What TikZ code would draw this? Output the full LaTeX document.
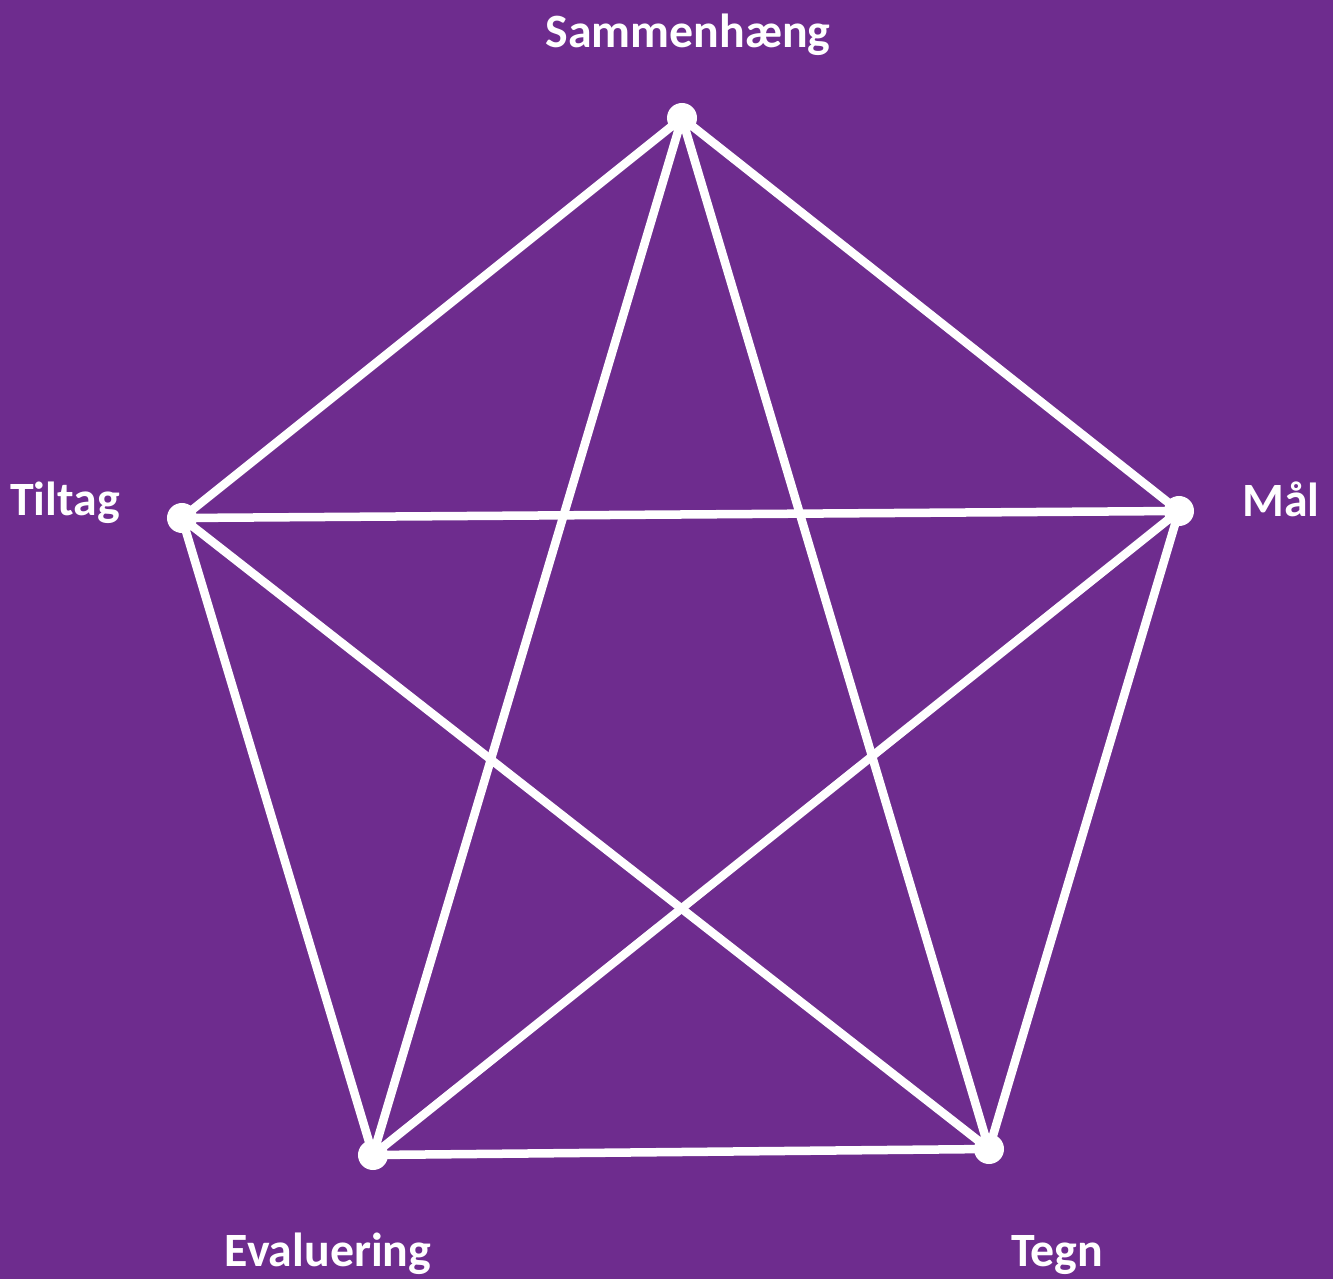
\documentclass[tikz,border=0pt]{standalone}
\usepackage{fontspec}
\setmainfont{Carlito}
\usepackage{xcolor}
\usepackage{tikz}
\usetikzlibrary{
  positioning,
  calc
}
\definecolor{bgpurple}{HTML}{6E2C8E}
\tikzset{
  dotnode/.style={
    circle, fill=white, draw=none, minimum size=0.3cm, inner sep=0pt
  },
  labeltext/.style={
    anchor=base, text=white, font=\fontsize{13.6}{15}\selectfont\bfseries,
    inner sep=0pt
  },
  edgeline/.style={
    draw=white, line width=0.085cm, line cap=round
  },
}

\begin{document}
\begin{tikzpicture}[x=0.01cm, y=-0.01cm]
  % background
  \fill[bgpurple] (0,0) rectangle (1333,1279);

  \node[dotnode] (sam) at (682,118)  {};
  \node[dotnode] (mal) at (1179,511) {};
  \node[dotnode] (til) at (182,518)  {};
  \node[dotnode] (eva) at (373,1155) {};
  \node[dotnode] (teg) at (989,1149) {};

  \node[labeltext] (samlab) at (688,48)   {Sammenhæng};
  \node[labeltext] (mallab) at (1281,516) {Mål};
  \node[labeltext] (tillab) at (65,515)   {Tiltag};
  \node[labeltext] (evalab) at (328,1266) {Evaluering};
  \node[labeltext] (teglab) at (1057,1266) {Tegn};

  % outer pentagon
  \draw[edgeline] (sam.center) -- (mal.center);
  \draw[edgeline] (mal.center) -- (teg.center);
  \draw[edgeline] (teg.center) -- (eva.center);
  \draw[edgeline] (eva.center) -- (til.center);
  \draw[edgeline] (til.center) -- (sam.center);
  % inner star
  \draw[edgeline] (sam.center) -- (eva.center);
  \draw[edgeline] (sam.center) -- (teg.center);
  \draw[edgeline] (til.center) -- (mal.center);
  \draw[edgeline] (til.center) -- (teg.center);
  \draw[edgeline] (mal.center) -- (eva.center);
\end{tikzpicture}
\end{document}
